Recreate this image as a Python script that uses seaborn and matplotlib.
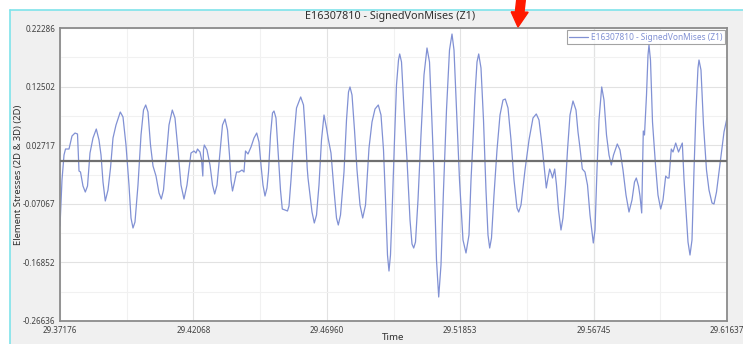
import matplotlib
matplotlib.use("Agg")
import matplotlib.pyplot as plt
from matplotlib.lines import Line2D
from matplotlib.patches import Rectangle, FancyArrow
import seaborn as sns
import pandas as pd

# Signed von Mises stress history of element E16307810 (layer Z1)
time_s = [
    29.37176, 29.37249, 29.37323, 29.37378, 29.37506, 29.37616, 29.37726, 29.37818, 29.37873, 29.37928,
    29.38019, 29.38104, 29.38185, 29.38276, 29.38386, 29.38507, 29.38606, 29.38680, 29.38753, 29.38837,
    29.38936, 29.39028, 29.39120, 29.39230, 29.39387, 29.39486, 29.39596, 29.39706, 29.39780, 29.39853,
    29.39926, 29.40036, 29.40147, 29.40238, 29.40319, 29.40403, 29.40495, 29.40587, 29.40697, 29.40807,
    29.40891, 29.40972, 29.41063, 29.41173, 29.41294, 29.41393, 29.41503, 29.41613, 29.41723, 29.41833,
    29.41980, 29.42090, 29.42164, 29.42219, 29.42310, 29.42365, 29.42413, 29.42438, 29.42468, 29.42567,
    29.42677, 29.42769, 29.42849, 29.42934, 29.43044, 29.43135, 29.43227, 29.43319, 29.43392, 29.43447,
    29.43502, 29.43575, 29.43649, 29.43740, 29.43850, 29.43924, 29.43979, 29.44070, 29.44181, 29.44291,
    29.44390, 29.44474, 29.44547, 29.44620, 29.44694, 29.44767, 29.44822, 29.44896, 29.44969, 29.45024,
    29.45097, 29.45171, 29.45262, 29.45328, 29.45427, 29.45519, 29.45574, 29.45647, 29.45739, 29.45849,
    29.46003, 29.46106, 29.46179, 29.46242, 29.46271, 29.46344, 29.46418, 29.46502, 29.46583, 29.46674,
    29.46766, 29.46858, 29.46949, 29.47015, 29.47114, 29.47224, 29.47316, 29.47382, 29.47463, 29.47591,
    29.47683, 29.47756, 29.47811, 29.47885, 29.47976, 29.48068, 29.48178, 29.48277, 29.48380, 29.48508,
    29.48618, 29.48728, 29.48849, 29.48948, 29.49040, 29.49113, 29.49186, 29.49241, 29.49296, 29.49370,
    29.49443, 29.49516, 29.49590, 29.49634, 29.49700, 29.49792, 29.49902, 29.50012, 29.50085, 29.50147,
    29.50213, 29.50305, 29.50415, 29.50525, 29.50635, 29.50727, 29.50800, 29.50892, 29.50983, 29.51064,
    29.51148, 29.51240, 29.51350, 29.51460, 29.51552, 29.51625, 29.51717, 29.51827, 29.51955, 29.52065,
    29.52175, 29.52249, 29.52322, 29.52395, 29.52469, 29.52531, 29.52615, 29.52707, 29.52798, 29.52872,
    29.52934, 29.53000, 29.53092, 29.53202, 29.53312, 29.53422, 29.53506, 29.53606, 29.53716, 29.53826,
    29.53936, 29.53998, 29.54082, 29.54229, 29.54376, 29.54522, 29.54643, 29.54742, 29.54852, 29.54944,
    29.55010, 29.55072, 29.55134, 29.55200, 29.55237, 29.55318, 29.55384, 29.55457, 29.55549, 29.55622,
    29.55714, 29.55788, 29.55879, 29.55989, 29.56099, 29.56173, 29.56246, 29.56331, 29.56429, 29.56521,
    29.56613, 29.56734, 29.56796, 29.56869, 29.56943, 29.57042, 29.57126, 29.57218, 29.57310, 29.57394,
    29.57475, 29.57614, 29.57713, 29.57823, 29.57933, 29.58043, 29.58153, 29.58245, 29.58311, 29.58392,
    29.58446, 29.58509, 29.58549, 29.58567, 29.58611, 29.58685, 29.58740, 29.58776, 29.58831, 29.58905,
    29.59015, 29.59106, 29.59205, 29.59290, 29.59389, 29.59455, 29.59510, 29.59594, 29.59657, 29.59756,
    29.59859, 29.59998, 29.60060, 29.60133, 29.60207, 29.60280, 29.60353, 29.60427, 29.60500, 29.60573,
    29.60610, 29.60683, 29.60775, 29.60885, 29.60977, 29.61087, 29.61160, 29.61252, 29.61398, 29.61527,
    29.61637,
]
stress = [
    -0.1078, -0.0310, 0.0108, 0.0208, 0.0208, 0.0425, 0.0475, 0.0459, -0.0159, -0.0176,
    -0.0410, -0.0510, -0.0410, 0.0141, 0.0392, 0.0542, 0.0359, 0.0108, -0.0343, -0.0660,
    -0.0477, -0.0109, 0.0392, 0.0609, 0.0826, 0.0743, 0.0275, -0.0393, -0.0944, -0.1111,
    -0.1011, -0.0393, 0.0442, 0.0859, 0.0943, 0.0826, 0.0275, -0.0076, -0.0243, -0.0527,
    -0.0627, -0.0477, 0.0025, 0.0609, 0.0859, 0.0726, 0.0192, -0.0393, -0.0627, -0.0393,
    0.0141, 0.0175, 0.0141, 0.0208, 0.0158, 0.0041, -0.0243, 0.0192, 0.0275, 0.0192,
    -0.0059, -0.0393, -0.0543, -0.0393, 0.0158, 0.0609, 0.0709, 0.0526, 0.0108, -0.0310,
    -0.0493, -0.0343, -0.0176, -0.0176, -0.0143, -0.0176, 0.0175, 0.0125, 0.0242, 0.0392,
    0.0475, 0.0325, -0.0059, -0.0393, -0.0577, -0.0443, -0.0176, 0.0442, 0.0809, 0.0843,
    0.0726, 0.0192, -0.0477, -0.0794, -0.0810, -0.0827, -0.0744, -0.0310, 0.0308, 0.0893,
    0.1077, 0.0943, 0.0442, -0.0109, -0.0276, -0.0560, -0.0844, -0.1027, -0.0894, -0.0393,
    0.0359, 0.0776, 0.0559, 0.0375, 0.0141, -0.0477, -0.0944, -0.1061, -0.0894, -0.0176,
    0.0693, 0.1160, 0.1244, 0.1110, 0.0526, -0.0143, -0.0727, -0.0944, -0.0727, 0.0225,
    0.0659, 0.0876, 0.0943, 0.0776, 0.0192, -0.0643, -0.1562, -0.1829, -0.1562, -0.0643,
    0.0359, 0.1277, 0.1694, 0.1795, 0.1661, 0.0859, 0.0025, -0.0977, -0.1378, -0.1445,
    -0.1345, -0.0643, 0.0442, 0.1444, 0.1895, 0.1661, 0.0859, -0.0226, -0.1645, -0.2263,
    -0.1729, -0.0477, 0.0859, 0.1861, 0.2128, 0.1861, 0.0859, -0.0310, -0.1311, -0.1528,
    -0.1228, -0.0310, 0.0359, 0.1110, 0.1661, 0.1795, 0.1561, 0.0693, -0.0477, -0.1228,
    -0.1445, -0.1278, -0.0560, 0.0192, 0.0776, 0.1026, 0.1043, 0.0893, 0.0359, -0.0310,
    -0.0777, -0.0844, -0.0727, -0.0143, 0.0359, 0.0726, 0.0793, 0.0693, 0.0275, -0.0143,
    -0.0443, -0.0276, -0.0126, -0.0209, -0.0276, -0.0126, -0.0393, -0.0810, -0.1144, -0.0944,
    -0.0393, 0.0192, 0.0776, 0.1010, 0.0859, 0.0492, 0.0225, -0.0126, -0.0176, -0.0393,
    -0.0894, -0.1361, -0.1144, -0.0143, 0.0693, 0.1244, 0.1026, 0.0442, 0.0108, -0.0059,
    0.0108, 0.0292, 0.0192, -0.0143, -0.0560, -0.0844, -0.0643, -0.0343, -0.0276, -0.0410,
    -0.0577, -0.0860, 0.0025, 0.0509, 0.0442, 0.1110, 0.1778, 0.1945, 0.1694, 0.0659,
    -0.0059, -0.0560, -0.0794, -0.0643, -0.0243, -0.0276, -0.0276, 0.0208, 0.0158, 0.0308,
    0.0158, 0.0308, -0.0293, -0.0810, -0.1345, -0.1562, -0.1311, -0.0143, 0.0859, 0.1561,
    0.1694, 0.1527, 0.0609, -0.0143, -0.0477, -0.0693, -0.0710, -0.0510, 0.0025, 0.0492,
    0.0726,
]

x_ticks = [29.37176, 29.42068, 29.46960, 29.51853, 29.56745, 29.61637]
x_tick_labels = ["29.37176", "29.42068", "29.46960", "29.51853", "29.56745", "29.61637"]
y_ticks = [0.22286, 0.12502, 0.02717, -0.07067, -0.16852, -0.26636]
y_tick_labels = ["0.22286", "0.12502", "0.02717", "-0.07067", "-0.16852", "-0.26636"]
baseline = 0.0
series_name = "E16307810 - SignedVonMises (Z1)"

df = pd.DataFrame({"Time": time_s, "Stress": stress})

sns.set_style("white")
plt.rcParams["font.family"] = ["Noto Sans", "DejaVu Sans"]

W, H = 743, 344
fig = plt.figure(figsize=(W / 100, H / 100), dpi=100, facecolor="white")

# window background with its cyan frame edge
fig.patches.append(Rectangle((10 / W, 0), 1, 1 - 10 / H, transform=fig.transFigure,
                             facecolor="#f0f0f0", edgecolor="none", zorder=-10))
fig.lines.append(Line2D([9.5 / W, 1], [1 - 9.5 / H, 1 - 9.5 / H], transform=fig.transFigure,
                        color="#7fe3ea", lw=1.2))
fig.lines.append(Line2D([9.5 / W, 9.5 / W], [0, 1 - 9.5 / H], transform=fig.transFigure,
                        color="#7fe3ea", lw=1.2))

ax = fig.add_axes([60 / W, 23 / H, 667 / W, 293 / H])
ax.set_facecolor("white")

line_color = "#8191d4"
sns.lineplot(data=df, x="Time", y="Stress", ax=ax, color=line_color, lw=0.9,
             sort=False, estimator=None, label=series_name)
ax.axhline(baseline, color="#6f6f6f", lw=1.6, zorder=3)

ax.set_xlim(x_ticks[0], x_ticks[-1])
ax.set_ylim(y_ticks[-1], y_ticks[0])
ax.set_xticks(x_ticks)
ax.set_xticklabels(x_tick_labels)
ax.set_yticks(y_ticks)
ax.set_yticklabels(y_tick_labels)
x_minor = [(a + b) / 2 for a, b in zip(x_ticks[:-1], x_ticks[1:])]
y_minor = [(a + b) / 2 for a, b in zip(y_ticks[:-1], y_ticks[1:])]
ax.set_xticks(x_minor, minor=True)
ax.set_yticks(y_minor, minor=True)

ax.grid(True, which="major", color="#e2e2e2", lw=0.8)
ax.grid(True, which="minor", color="#f1f1f1", lw=0.8)
ax.axvline(x_ticks[4], color="#d8dcec", lw=0.8, zorder=0.5)
ax.set_axisbelow(True)

ax.tick_params(axis="both", which="major", labelsize=5.8, labelcolor="#404040",
               length=3, width=0.6, color="#808080", pad=0.5)
ax.tick_params(axis="both", which="minor", length=0)
for s in ax.spines.values():
    s.set_color("#8c8c8c")
    s.set_linewidth(1.3)

ax.set_xlabel("Time", fontsize=7, color="#303030", labelpad=-1)
ax.set_ylabel("Element Stresses (2D & 3D) (2D)", fontsize=6.8, color="#303030", labelpad=0)
fig.text(390 / W, 1 - 17 / H, series_name, ha="center", va="center",
         fontsize=7.8, color="#303030")

leg = ax.legend(loc="upper right", fontsize=6.0, frameon=True, fancybox=False,
                borderaxespad=0.25, handlelength=2.2, handletextpad=0.4,
                borderpad=0.3, labelcolor=line_color)
leg.get_frame().set_edgecolor("#8c8c8c")
leg.get_frame().set_linewidth(0.8)

# red pointer above the plot frame
fig.patches.append(FancyArrow(521 / W, 1.0, -3 / W, -(27 / H), width=4 / H,
                              head_width=17 / W, head_length=15 / H,
                              length_includes_head=True, transform=fig.transFigure,
                              color="#ff1a00", zorder=10))

fig.savefig("out.png", dpi=100, facecolor=fig.get_facecolor())
